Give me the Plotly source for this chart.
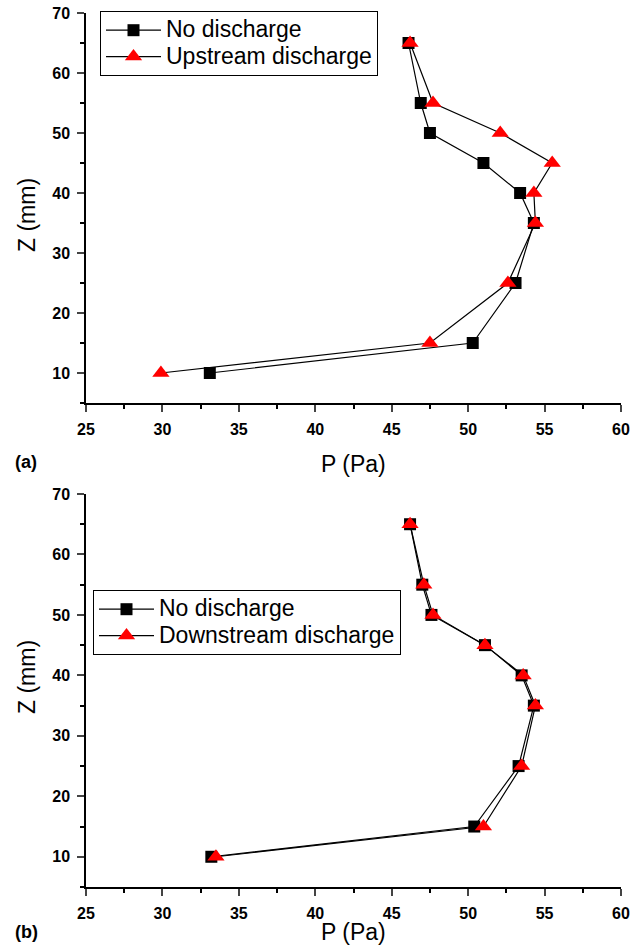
import plotly.graph_objects as go

# ---- data ----
z_levels = [65, 55, 50, 45, 40, 35, 25, 15, 10]

p_no_discharge_a = [46.1, 46.9, 47.5, 51.0, 53.4, 54.3, 53.1, 50.3, 33.1]
p_upstream = [46.2, 47.7, 52.1, 55.5, 54.3, 54.4, 52.6, 47.5, 29.9]

p_no_discharge_b = [46.2, 47.0, 47.6, 51.1, 53.5, 54.3, 53.3, 50.4, 33.2]
p_downstream = [46.2, 47.1, 47.7, 51.1, 53.6, 54.4, 53.5, 51.0, 33.5]

x_ticks = [25, 30, 35, 40, 45, 50, 55, 60]
y_ticks = [10, 20, 30, 40, 50, 60, 70]

FONT = "Liberation Sans, Arial, sans-serif"

# body margin is removed by post_script, so the figure sits at (0, 0)
W, H = 640, 947
L = 86
T = 13
R = W - 621
B = H - 887
PH = H - T - B


def py(pix):
    return (H - B - pix) / PH


def px(pix):
    return (pix - L) / (W - L - R)


def big(s):
    return "<span style='font-size:23px'>" + s + "</span>"


fig = go.Figure()

sq = dict(symbol="square", size=12, color="black", line=dict(width=0))
tri = dict(symbol="triangle-up", size=15, color="#ff0000", line=dict(width=0))
ln = dict(color="black", width=1.2)

fig.add_trace(go.Scatter(x=p_no_discharge_a, y=z_levels, mode="lines+markers",
                         name=big("No discharge"), marker=sq, line=ln,
                         xaxis="x", yaxis="y", legend="legend"))
fig.add_trace(go.Scatter(x=p_upstream, y=z_levels, mode="lines+markers",
                         name=big("Upstream discharge"), marker=tri, line=ln,
                         xaxis="x", yaxis="y", legend="legend"))
fig.add_trace(go.Scatter(x=p_no_discharge_b, y=z_levels, mode="lines+markers",
                         name=big("No discharge"), marker=sq, line=ln,
                         xaxis="x2", yaxis="y2", legend="legend2"))
fig.add_trace(go.Scatter(x=p_downstream, y=z_levels, mode="lines+markers",
                         name=big("Downstream discharge"), marker=tri, line=ln,
                         xaxis="x2", yaxis="y2", legend="legend2"))

tickfont = dict(family=FONT, size=16, color="black", weight="bold")


def xax(anchor):
    return dict(range=[25, 60], tickvals=x_ticks, ticks="outside", ticklen=7,
                tickwidth=1.5, showline=True, linecolor="black", linewidth=1.5,
                showgrid=False, zeroline=False, tickfont=tickfont, anchor=anchor,
                automargin=False, ticklabeloverflow="allow", ticklabelstandoff=4,
                minor=dict(dtick=2.5, tick0=25, ticks="outside", ticklen=4,
                           tickwidth=1.5, tickcolor="black", showgrid=False))


def yax(anchor, domain):
    return dict(range=[5, 70], tickvals=y_ticks, ticks="outside", ticklen=7,
                tickwidth=1.5, showline=True, linecolor="black", linewidth=1.5,
                showgrid=False, zeroline=False, tickfont=tickfont, anchor=anchor,
                domain=domain, automargin=False, ticklabeloverflow="allow",
                ticklabelstandoff=4,
                minor=dict(dtick=5, tick0=5, ticks="outside", ticklen=4,
                           tickwidth=1.5, tickcolor="black", showgrid=False))


legend_common = dict(font=dict(family=FONT, size=18, color="black"),
                     bordercolor="black", borderwidth=1, bgcolor="white",
                     xanchor="left", yanchor="top", itemwidth=55,
                     tracegroupgap=0)

fig.update_layout(
    width=W, height=H,
    margin=dict(l=L, r=R, t=T, b=B, autoexpand=False),
    plot_bgcolor="white", paper_bgcolor="white",
    showlegend=True,
    xaxis=xax("y"),
    yaxis=yax("x", [py(403), 1.0]),
    xaxis2=xax("y2"),
    yaxis2=yax("x2", [0.0, py(494)]),
    legend=dict(x=px(100), y=py(11), **legend_common),
    legend2=dict(x=px(93), y=py(590), **legend_common),
)

title_font = dict(family=FONT, size=23, color="black")
lab_font = dict(family=FONT, size=18, color="black")
annotations = [
    dict(text="P (Pa)", x=px(353), y=py(464), xref="paper", yref="paper",
         showarrow=False, font=title_font, xanchor="center", yanchor="middle"),
    dict(text="P (Pa)", x=px(353), y=py(932), xref="paper", yref="paper",
         showarrow=False, font=title_font, xanchor="center", yanchor="middle"),
    dict(text="Z (mm)", x=px(27), y=py(215), xref="paper", yref="paper",
         showarrow=False, font=title_font, textangle=-90,
         xanchor="center", yanchor="middle"),
    dict(text="Z (mm)", x=px(27), y=py(677), xref="paper", yref="paper",
         showarrow=False, font=title_font, textangle=-90,
         xanchor="center", yanchor="middle"),
    dict(text="<b>(a)</b>", x=px(26), y=py(462), xref="paper", yref="paper",
         showarrow=False, font=lab_font, xanchor="center", yanchor="middle"),
    dict(text="<b>(b)</b>", x=px(26), y=py(932), xref="paper", yref="paper",
         showarrow=False, font=lab_font, xanchor="center", yanchor="middle"),
]
fig.update_layout(annotations=annotations)

fig.write_html(
    "out.html",
    config={"displayModeBar": False},
    post_script="document.body.style.margin='0px';document.body.style.overflow='hidden';",
)
